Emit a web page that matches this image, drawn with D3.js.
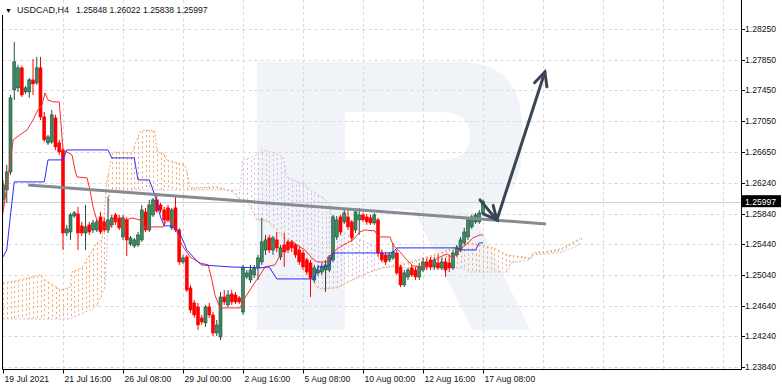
<!DOCTYPE html>
<html>
<head>
<meta charset="utf-8">
<script src="https://cdn.jsdelivr.net/npm/d3@7"></script>
<style>
  body { margin: 0; background: #fff; }
  svg text { font-family: "Liberation Sans", Arial, sans-serif; }
</style>
</head>
<body>
<svg id="chart"></svg>
<script>
var svgWidth = 782;
var svgHeight = 389;

// USDCAD H4 candles, 19 Jul 2021 00:00 .. 17 Aug 2021 08:00 (one value per bar)
var opens = [1.26020,1.26150,1.26385,1.27455,1.27482,1.27743,1.27429,1.27429,1.27586,1.27547,
  1.27743,1.27103,1.26764,1.26777,1.27090,1.26764,1.26672,1.25589,1.25602,1.25811,
  1.25837,1.25681,1.25589,1.25694,1.25628,1.25628,1.25798,1.25733,1.25628,1.25694,
  1.25824,1.25785,1.25537,1.25759,1.25446,1.25420,1.25433,1.25498,1.25863,1.25628,
  1.25824,1.26020,1.25955,1.25889,1.25916,1.25655,1.25916,1.25628,1.25211,1.25276,
  1.24872,1.24676,1.24624,1.24480,1.24415,1.24624,1.24519,1.24284,1.24232,1.24754,
  1.24650,1.24793,1.24780,1.24741,1.24558,1.25015,1.24976,1.25041,1.25133,1.25211,
  1.25367,1.25524,1.25367,1.25498,1.25276,1.25433,1.25472,1.25472,1.25433,1.25367,
  1.25328,1.25237,1.25198,1.24976,1.25067,1.25080,1.25106,1.25106,1.25237,1.25537,
  1.25798,1.25733,1.25798,1.25733,1.25628,1.25759,1.25824,1.25798,1.25785,1.25720,
  1.25759,1.25328,1.25302,1.25237,1.25263,1.25328,1.25146,1.24911,1.25015,1.25133,
  1.25106,1.25015,1.25106,1.25211,1.25237,1.25146,1.25198,1.25133,1.25211,1.25198,
  1.25133,1.25302,1.25367,1.25459,1.25537,1.25668,1.25733,1.25733,1.25848];
var highs = [1.26281,1.26477,1.27390,1.28082,1.27782,1.27769,1.27508,1.27612,1.27860,1.27886,
  1.27886,1.27168,1.26868,1.27194,1.27129,1.26803,1.26699,1.25694,1.25850,1.25876,
  1.25929,1.25733,1.25955,1.25733,1.25759,1.25772,1.25863,1.25785,1.26059,1.25824,
  1.25850,1.25824,1.25824,1.25798,1.25550,1.25524,1.25602,1.25955,1.25916,1.26020,
  1.26046,1.26085,1.25981,1.25929,1.25955,1.25916,1.26059,1.25655,1.25302,1.25302,
  1.24911,1.24715,1.24676,1.24519,1.24650,1.24676,1.24558,1.24454,1.24819,1.24845,
  1.24845,1.24845,1.24819,1.24767,1.25172,1.25106,1.25172,1.25172,1.25302,1.25785,
  1.25563,1.25563,1.25550,1.25602,1.25433,1.25589,1.25498,1.25498,1.25459,1.25407,
  1.25367,1.25263,1.25237,1.25172,1.25172,1.25198,1.25237,1.25302,1.25824,1.25811,
  1.25824,1.25889,1.25889,1.25759,1.25889,1.25916,1.25850,1.25837,1.25824,1.25850,
  1.25785,1.25367,1.25328,1.25341,1.25459,1.25367,1.25172,1.25106,1.25133,1.25172,
  1.25146,1.25198,1.25263,1.25263,1.25276,1.25276,1.25302,1.25263,1.25263,1.25302,
  1.25367,1.25433,1.25537,1.25655,1.25798,1.25824,1.25850,1.25889,1.26022];
var lows = [1.25889,1.25981,1.26346,1.27325,1.27429,1.27364,1.27403,1.27351,1.27390,1.27521,
  1.27064,1.26777,1.26738,1.26751,1.26672,1.26607,1.25367,1.25550,1.25498,1.25785,
  1.25367,1.25550,1.25367,1.25563,1.25589,1.25602,1.25576,1.25602,1.25589,1.25655,
  1.25694,1.25628,1.25498,1.25289,1.25420,1.25394,1.25407,1.25472,1.25602,1.25602,
  1.25798,1.25850,1.25850,1.25694,1.25733,1.25628,1.25602,1.25172,1.25185,1.24819,
  1.24545,1.24480,1.24323,1.24389,1.24363,1.24480,1.24245,1.24245,1.24193,1.24650,
  1.24624,1.24650,1.24663,1.24663,1.24519,1.24989,1.24937,1.25002,1.24976,1.25172,
  1.25302,1.25328,1.25302,1.25341,1.25237,1.25146,1.25328,1.25341,1.25263,1.25172,
  1.25106,1.25041,1.24754,1.24937,1.25028,1.25041,1.24819,1.25080,1.25211,1.25498,
  1.25563,1.25707,1.25628,1.25472,1.25589,1.25563,1.25733,1.25694,1.25694,1.25694,
  1.25276,1.25211,1.25172,1.25211,1.25237,1.25041,1.24885,1.24885,1.24976,1.25015,
  1.24976,1.24976,1.25080,1.25106,1.25106,1.25106,1.25106,1.25106,1.25015,1.25080,
  1.25106,1.25276,1.25341,1.25433,1.25498,1.25642,1.25707,1.25707,1.25838];
var closes = [1.26216,1.26385,1.27351,1.27821,1.27743,1.27390,1.27482,1.27586,1.27534,1.27743,
  1.27103,1.26803,1.26842,1.27129,1.26712,1.26646,1.25589,1.25642,1.25824,1.25850,
  1.25589,1.25589,1.25668,1.25602,1.25720,1.25733,1.25602,1.25628,1.25759,1.25785,
  1.25733,1.25655,1.25785,1.25498,1.25524,1.25498,1.25563,1.25889,1.25628,1.25955,
  1.26020,1.25876,1.25889,1.25759,1.25759,1.25889,1.25628,1.25211,1.25263,1.24845,
  1.24584,1.24519,1.24389,1.24428,1.24624,1.24519,1.24284,1.24389,1.24754,1.24689,
  1.24780,1.24689,1.24689,1.24689,1.25133,1.25067,1.25106,1.25133,1.25263,1.25472,
  1.25498,1.25367,1.25524,1.25394,1.25394,1.25341,1.25367,1.25394,1.25302,1.25211,
  1.25146,1.25080,1.25002,1.25133,1.25106,1.25146,1.25172,1.25276,1.25798,1.25759,
  1.25602,1.25850,1.25668,1.25524,1.25863,1.25824,1.25759,1.25733,1.25720,1.25824,
  1.25328,1.25237,1.25211,1.25302,1.25341,1.25067,1.24911,1.25067,1.25106,1.25041,
  1.25015,1.25146,1.25211,1.25146,1.25146,1.25237,1.25133,1.25211,1.25106,1.25133,
  1.25328,1.25394,1.25498,1.25602,1.25759,1.25798,1.25824,1.25850,1.25997];

// Ichimoku lines as [bar, price] points
var tenkan = [[0,1.25850],[1.9,1.26503],[2.7,1.26803],[4.5,1.26868],[6.4,1.26933],[8,1.27064],
  [9.3,1.27194],[10.4,1.27260],[11.2,1.27416],[12,1.27325],[13.3,1.27299],[15,1.27299],
  [16,1.26672],[18.4,1.26607],[19.2,1.26411],[19.7,1.26320],[22.4,1.26307],[23.2,1.26150],
  [24,1.25929],[25,1.25759],[26.7,1.25668],[28.5,1.25668],[29.3,1.25733],[31.2,1.25785],
  [33,1.25759],[34.4,1.25785],[36.5,1.25759],[38.4,1.25628],[39.7,1.25668],[42.7,1.25668],
  [43.7,1.25759],[45.3,1.25720],[46.4,1.25602],[47.7,1.25433],[49.9,1.25276],[52.5,1.25198],
  [54.7,1.25172],[55.7,1.24976],[56.5,1.24780],[57.9,1.24611],[63.2,1.24611],[64.5,1.24741],
  [66.4,1.24885],[68,1.25002],[69.9,1.25146],[72.5,1.25172],[74.7,1.25367],[77.3,1.25472],
  [79.2,1.25407],[80.5,1.25367],[82.4,1.25263],[83.7,1.25211],[86.4,1.25211],[87.7,1.25328],
  [89.9,1.25407],[93.3,1.25498],[95.2,1.25602],[96.5,1.25628],[99.2,1.25615],[100,1.25537],
  [103.2,1.25537],[104,1.25433],[105.9,1.25341],[107.7,1.25237],[109.3,1.25159],[113,1.25146],
  [114.4,1.25211],[116,1.25263],[118.4,1.25315],[120,1.25263],[121.3,1.25341],[122.7,1.25407],
  [124,1.25459],[125.3,1.25524],[127.2,1.25563],[128,1.25563]];
var kijun = [[0,1.25276],[1,1.25367],[2,1.25824],[3,1.26255],[11,1.26255],[12,1.26542],
  [16,1.26542],[17,1.26672],[28,1.26672],[29,1.26568],[35,1.26568],[36,1.26281],[39,1.26281],
  [40,1.26150],[41,1.25994],[42,1.25798],[43,1.25681],[45,1.25681],[47,1.25602],[48.5,1.25433],
  [49,1.25367],[52,1.25211],[53,1.25172],[60.5,1.25146],[68.5,1.25133],[71,1.25146],
  [73,1.24989],[83,1.24989],[84,1.25146],[87,1.25159],[88,1.25328],[104,1.25328],[105,1.25394],
  [121,1.25394],[122.7,1.25367],[126,1.25367],[127,1.25459],[128,1.25459]];
var senkouA = [[0,1.24937],[4.5,1.24976],[9.9,1.25041],[11.2,1.24976],[15.2,1.24845],[17.9,1.24885],
  [18.4,1.25080],[21,1.25133],[25,1.25459],[26.4,1.25498],[27.7,1.26281],[29.3,1.26646],
  [34.4,1.26633],[36.5,1.26907],[37.9,1.26933],[40.5,1.26920],[41.1,1.26633],[42.7,1.26633],
  [43.7,1.26542],[48.5,1.26477],[49.3,1.26320],[49.9,1.26177],[57.1,1.26190],[61.3,1.26124],
  [63.2,1.26020],[65,1.26020],[67.7,1.25759],[69.3,1.25759],[71.2,1.25720],[74.7,1.25537],
  [77.3,1.25459],[79.2,1.25328],[80.5,1.25146],[82.4,1.25015],[83.7,1.24885],[84.5,1.24859],
  [89.1,1.24872],[91.7,1.24937],[94.4,1.25002],[97.9,1.25080],[101.3,1.25133],[104,1.25146],
  [107.7,1.25198],[112,1.25263],[116.5,1.25328],[120,1.25394],[122.7,1.25433],[124.5,1.25459],
  [127.2,1.25433],[130.7,1.25394],[134.4,1.25302],[140.5,1.25263],[141.3,1.25328],
  [147.7,1.25367],[149.3,1.25394],[153.1,1.25498],[154,1.25524]];
var senkouB = [[0,1.24467],[17.9,1.24467],[18.4,1.24480],[25,1.24624],[25.9,1.24741],[27.2,1.24885],
  [28.5,1.26150],[49.9,1.26150],[63.2,1.26150],[64,1.26542],[67.7,1.26607],[69,1.26672],
  [72.5,1.26633],[74.7,1.26581],[75.7,1.26320],[80.5,1.26216],[81.9,1.26150],[85,1.26059],
  [87.2,1.25955],[88,1.25655],[93.9,1.25524],[98.4,1.25433],[102.7,1.25328],[104,1.25172],
  [105.9,1.25133],[122.7,1.25133],[124.5,1.25080],[134.7,1.25080],[135.2,1.25198],
  [140.5,1.25237],[141.3,1.25302],[147.7,1.25328],[149.3,1.25341],[152.5,1.25407],[154,1.25459]];

// drawn objects: trend line and the two arrows, [bar, price]
var trendLine = [[6.7,1.26216],[144.8,1.25707]];
var arrowDown = [[127.2,1.26020],[131.7,1.25759]];
var arrowUp = [[131.7,1.25759],[144.5,1.27690]];

var yTicks = [1.28250,1.27850,1.27450,1.27050,1.26650,1.26240,1.25840,1.25440,1.25040,1.24640,1.24240,1.23840];
var xTickBars = [0,16,32,48,64,80,96,112,128];
var xTickLabels = ["19 Jul 2021","21 Jul 16:00","26 Jul 08:00","29 Jul 00:00","2 Aug 16:00",
  "5 Aug 08:00","10 Aug 00:00","12 Aug 16:00","17 Aug 08:00"];
var gridBars = d3.range(16, 200, 16);

var plot = {left: 2.5, right: 741, top: 0, bottom: 369};

var svg = d3.select("#chart")
  .attr("width", svgWidth)
  .attr("height", svgHeight);

var x = d3.scaleLinear().domain([0, 16]).range([3, 63]);
var y = d3.scaleLinear().domain([1.2384, 1.2825]).range([367, 29]);

svg.append("defs").append("clipPath").attr("id", "plotclip")
  .append("rect")
  .attr("x", plot.left + 0.5).attr("y", plot.top)
  .attr("width", plot.right - plot.left - 0.5).attr("height", plot.bottom - plot.top);

// faint "R" watermark behind the chart
svg.append("path")
  .attr("d", "M257,62H345V330H257Z " +
    "M345,62H460Q522,62 522,128V148Q522,210 460,210H345Z M345,112H440Q470,112 470,136Q470,160 440,160H345Z " +
    "M414,210H472L530,330H472Z")
  .attr("fill", "#f0f3f7")
  .attr("fill-rule", "evenodd");

// grid
var grid = svg.append("g").attr("stroke", "#d9d9d9").attr("stroke-dasharray", "3,3").attr("stroke-width", 1);
grid.selectAll("line.h").data(yTicks).enter().append("line")
  .attr("x1", plot.left).attr("x2", plot.right)
  .attr("y1", d => Math.round(y(d)) + 0.5).attr("y2", d => Math.round(y(d)) + 0.5);
grid.selectAll("line.v").data(gridBars).enter().append("line")
  .attr("x1", d => Math.round(x(d)) + 0.5).attr("x2", d => Math.round(x(d)) + 0.5)
  .attr("y1", plot.top).attr("y2", plot.bottom);

var chart = svg.append("g").attr("clip-path", "url(#plotclip)");

// Ichimoku cloud: dotted vertical hatch per bar between the two spans
var spanA = d3.scaleLinear().domain(senkouA.map(d => d[0])).range(senkouA.map(d => d[1]));
var spanB = d3.scaleLinear().domain(senkouB.map(d => d[0])).range(senkouB.map(d => d[1]));
var cloudBars = d3.range(0, 155);
chart.append("g").selectAll("line").data(cloudBars).enter().append("line")
  .attr("x1", d => Math.round(x(d)) + 0.5).attr("x2", d => Math.round(x(d)) + 0.5)
  .attr("y1", d => y(spanA(d))).attr("y2", d => y(spanB(d)))
  .attr("stroke", d => spanA(d) >= spanB(d) ? "#f5a866" : "#d8b8d8")
  .attr("stroke-width", 1)
  .attr("stroke-dasharray", "2,3");

var line = d3.line().x(d => x(d[0])).y(d => y(d[1]));
chart.append("path").datum(senkouA).attr("d", line)
  .attr("fill", "none").attr("stroke", "#f5a866").attr("stroke-dasharray", "2,2");
chart.append("path").datum(senkouB).attr("d", line)
  .attr("fill", "none").attr("stroke", "#d8b8d8").attr("stroke-dasharray", "2,2");

// current price line
var last = closes.length - 1;
chart.append("line")
  .attr("x1", plot.left).attr("x2", plot.right)
  .attr("y1", Math.round(y(closes[last])) + 0.5).attr("y2", Math.round(y(closes[last])) + 0.5)
  .attr("stroke", "#d0d0d0").attr("stroke-width", 1);

// candles
var bars = d3.range(closes.length);
var candles = chart.append("g");
candles.selectAll("line").data(bars).enter().append("line")
  .attr("x1", i => x(i)).attr("x2", i => x(i))
  .attr("y1", i => y(highs[i])).attr("y2", i => y(lows[i]))
  .attr("stroke", i => closes[i] >= opens[i] ? "#2c4c3c" : "#ff0000")
  .attr("stroke-width", 1);
candles.selectAll("rect").data(bars).enter().append("rect")
  .attr("x", i => x(i) - 1.5)
  .attr("width", 3)
  .attr("y", i => y(Math.max(opens[i], closes[i])))
  .attr("height", i => Math.max(1, Math.abs(y(opens[i]) - y(closes[i]))))
  .attr("fill", i => closes[i] >= opens[i] ? "#3a8a62" : "#ff0000")
  .attr("stroke", i => closes[i] >= opens[i] ? "#24503c" : "#ff0000")
  .attr("stroke-width", 0.6);

// tenkan / kijun
chart.append("path").datum(tenkan).attr("d", line)
  .attr("fill", "none").attr("stroke", "#ff2a2a").attr("stroke-width", 1);
chart.append("path").datum(kijun).attr("d", line)
  .attr("fill", "none").attr("stroke", "#2a2aff").attr("stroke-width", 1);

// trend line
chart.append("path").datum(trendLine).attr("d", line)
  .attr("fill", "none").attr("stroke", "#858b92").attr("stroke-width", 3);

// arrows
function drawArrow(pts) {
  var x0 = x(pts[0][0]), y0 = y(pts[0][1]), x1 = x(pts[1][0]), y1 = y(pts[1][1]);
  var a = Math.atan2(y1 - y0, x1 - x0), len = 15, spread = Math.PI / 7;
  chart.append("line")
    .attr("x1", x0).attr("y1", y0).attr("x2", x1).attr("y2", y1)
    .attr("stroke", "#3b4655").attr("stroke-width", 3).attr("stroke-linecap", "round");
  chart.append("path")
    .attr("d", "M" + (x1 - len * Math.cos(a - spread)) + "," + (y1 - len * Math.sin(a - spread)) +
      "L" + x1 + "," + y1 +
      "L" + (x1 - len * Math.cos(a + spread)) + "," + (y1 - len * Math.sin(a + spread)))
    .attr("fill", "none").attr("stroke", "#3b4655").attr("stroke-width", 3)
    .attr("stroke-linejoin", "miter").attr("stroke-linecap", "round");
}
drawArrow(arrowDown);
drawArrow(arrowUp);

// frame
var frame = svg.append("g").attr("stroke", "#000").attr("stroke-width", 1).attr("fill", "none");
frame.append("line").attr("x1", plot.left).attr("x2", plot.left).attr("y1", 15).attr("y2", plot.bottom + 0.5);
frame.append("line").attr("x1", plot.right + 0.5).attr("x2", plot.right + 0.5).attr("y1", 0).attr("y2", plot.bottom + 0.5);
frame.append("line").attr("x1", plot.left).attr("x2", plot.right + 0.5).attr("y1", plot.bottom + 0.5).attr("y2", plot.bottom + 0.5);

// y axis
var yAxis = svg.append("g");
yAxis.selectAll("line").data(yTicks).enter().append("line")
  .attr("x1", plot.right + 0.5).attr("x2", plot.right + 4)
  .attr("y1", d => Math.round(y(d)) + 0.5).attr("y2", d => Math.round(y(d)) + 0.5)
  .attr("stroke", "#000");
yAxis.selectAll("text").data(yTicks).enter().append("text")
  .attr("x", 745).attr("y", d => y(d) + 3)
  .attr("font-size", "8.6px").attr("fill", "#111")
  .text(d => d.toFixed(5));

// x axis
var xAxis = svg.append("g");
xAxis.selectAll("line").data(xTickBars).enter().append("line")
  .attr("x1", d => Math.round(x(d)) + 0.5).attr("x2", d => Math.round(x(d)) + 0.5)
  .attr("y1", plot.bottom).attr("y2", plot.bottom + 4.5)
  .attr("stroke", "#000");
xAxis.selectAll("text").data(xTickBars).enter().append("text")
  .attr("x", d => x(d) + 1.5).attr("y", 382)
  .attr("font-size", "8.6px").attr("fill", "#111")
  .text((d, i) => xTickLabels[i]);

// current price tag
svg.append("rect").attr("x", 742).attr("y", y(closes[last]) - 6.5).attr("width", 39).attr("height", 12).attr("fill", "#000");
svg.append("text").attr("x", 745).attr("y", y(closes[last]) + 3)
  .attr("font-size", "8.6px").attr("fill", "#fff").text(closes[last].toFixed(5));

// title
svg.append("text").attr("x", 5).attr("y", 13).attr("font-size", "7px").attr("fill", "#000").text("\u25BC");
svg.append("text").attr("x", 17).attr("y", 13).attr("font-size", "9px").attr("fill", "#111").text("USDCAD,H4");
var titleVals = [opens[last], highs[last], lows[last], closes[last]];
svg.selectAll("text.ohlc").data(titleVals).enter().append("text")
  .attr("class", "ohlc")
  .attr("x", (d, i) => 76 + i * 33.5).attr("y", 13)
  .attr("font-size", "8.6px").attr("fill", "#111")
  .text(d => d.toFixed(5));
</script>
</body>
</html>
